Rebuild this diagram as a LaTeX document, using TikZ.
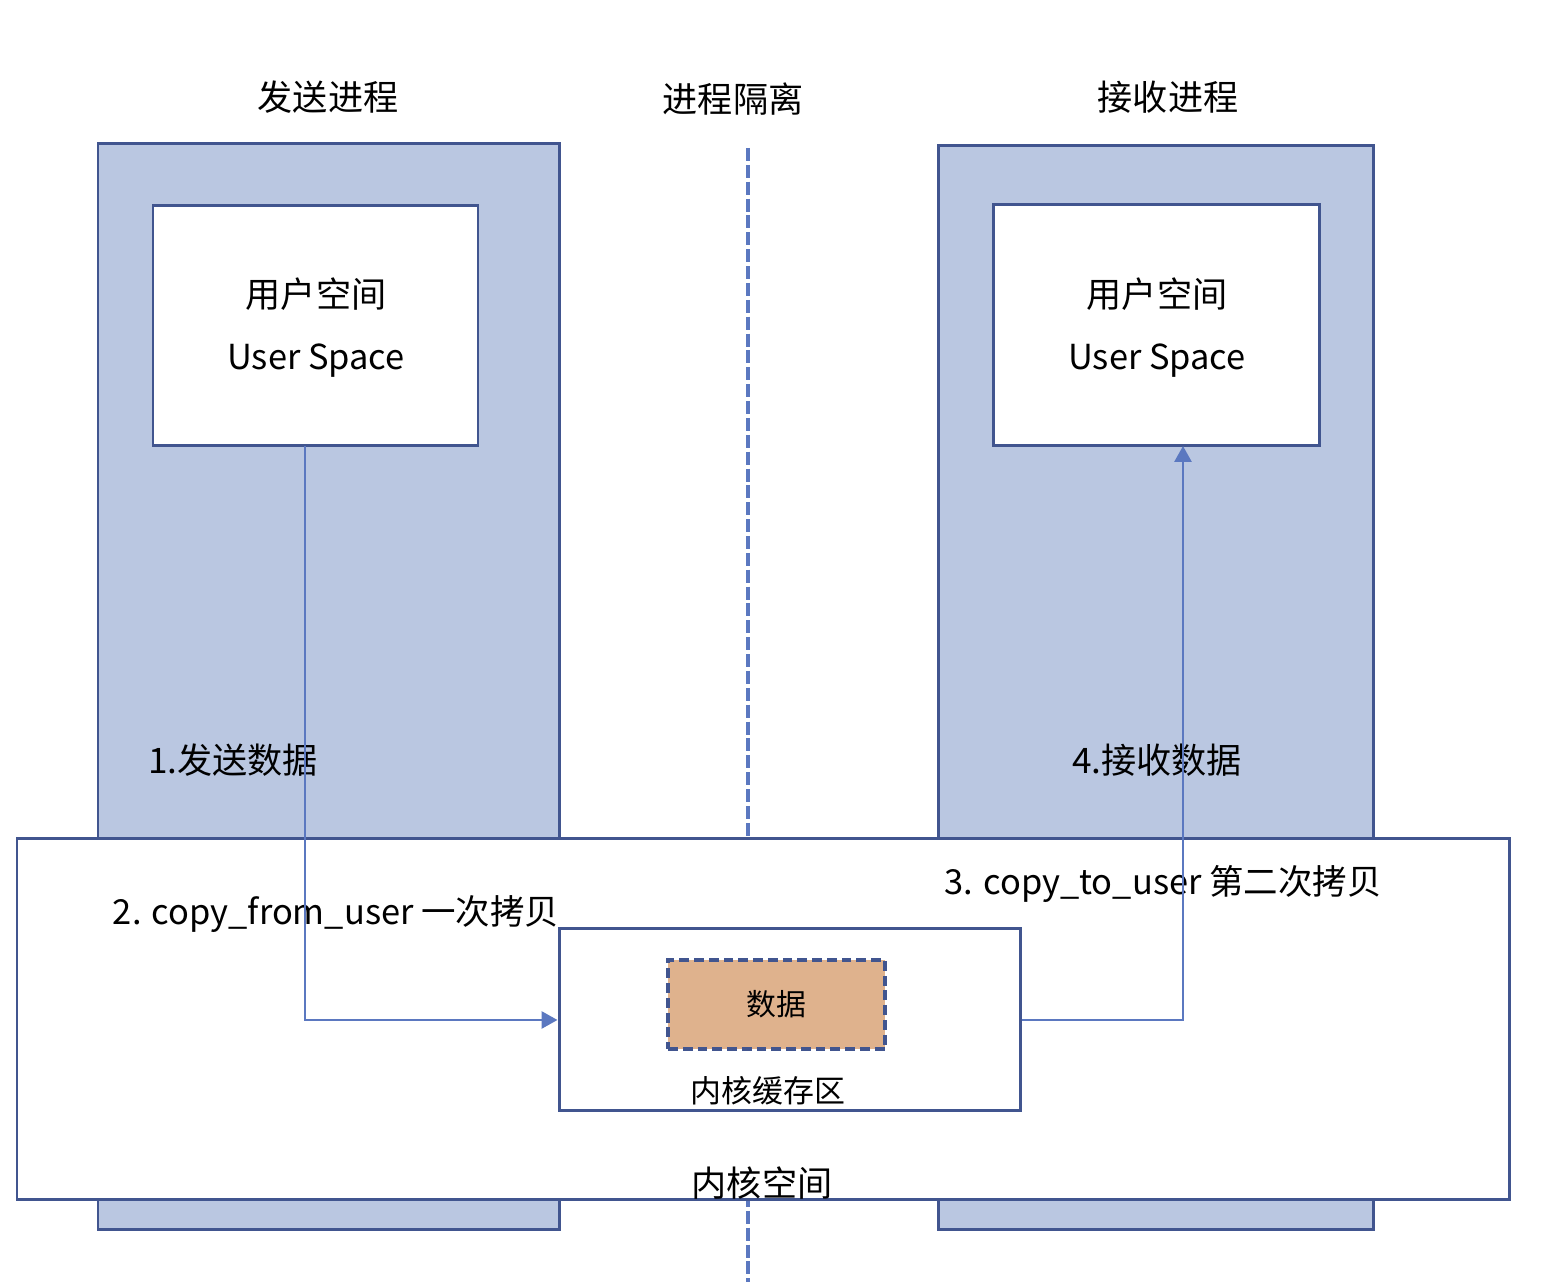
\documentclass[tikz,border=0pt]{standalone}
\usepackage{fontspec}
\setmainfont{Noto Sans CJK SC}
\usepackage{xcolor}
\usepackage{tikz}
\usetikzlibrary{arrows.meta, positioning, calc}

\definecolor{procfill}{HTML}{BAC7E1}
\definecolor{edgeblue}{HTML}{41558F}
\definecolor{flowblue}{HTML}{5B78C0}
\definecolor{datafill}{HTML}{DFB28D}

\begin{document}
\begin{tikzpicture}[
  proc/.style={rectangle, draw=edgeblue, fill=procfill, line width=0.85pt,
               inner sep=0pt},
  space/.style={rectangle, draw=edgeblue, fill=white, line width=0.85pt,
                inner sep=0pt},
  databox/.style={rectangle, draw=edgeblue, fill=datafill, line width=1.1pt,
                  dash pattern=on 2.8pt off 1.4pt, inner sep=0pt,
                  font=\fontsize{8.5pt}{10pt}\selectfont},
  lbl/.style={font=\fontsize{10pt}{12pt}\selectfont, inner sep=0pt},
  copylbl/.style={font=\fontsize{9.8pt}{12pt}\selectfont, inner sep=0pt},
  small/.style={font=\fontsize{8.8pt}{10pt}\selectfont, inner sep=0pt},
  arrow/.style={-{Triangle[length=1.6mm, width=1.7mm]}, draw=flowblue,
                line width=0.8pt},
  border/.style={dash pattern=on 3.7pt off 1.1pt, draw=flowblue,
                 line width=1.1pt}
]
  \useasboundingbox (0,0) rectangle (15.44,12.82);

  % the two processes
  \node[proc, minimum width=4.61cm, minimum height=10.86cm] (sender) at (3.285,5.95) {};
  \node[proc, minimum width=4.35cm, minimum height=10.84cm] (receiver) at (11.555,5.94) {};

  % isolation line
  \coordinate (isotop) at (7.48,11.34);
  \coordinate (isobot) at (7.48,0);
  \draw[border] (isotop) -- (isobot);

  % kernel
  \node[space, minimum width=14.92cm, minimum height=3.61cm] (kernel) at (7.63,2.625) {};
  \node[space, minimum width=4.61cm, minimum height=1.82cm] (buffer) at (7.895,2.62) {};
  \node[databox, minimum width=2.17cm, minimum height=0.89cm] (data) at (7.765,2.775) {数据};

  % user spaces
  \node[space, minimum width=3.25cm, minimum height=2.40cm] (suser) at (3.155,9.56) {};
  \node[space, minimum width=3.26cm, minimum height=2.41cm] (ruser) at (11.56,9.565) {};

  % texts
  \node[lbl] (ttsend) at (3.28,11.85) {发送进程};
  \node[lbl] (ttiso) at (7.33,11.83) {进程隔离};
  \node[lbl] (ttrecv) at (11.68,11.85) {接收进程};
  \node[lbl] (sucn) at (3.16,9.88) {用户空间};
  \node[copylbl] (suen) at (3.16,9.21) {User Space};
  \node[lbl] (rucn) at (11.57,9.88) {用户空间};
  \node[copylbl] (ruen) at (11.57,9.21) {User Space};
  \node[lbl] (stepa) at (2.33,5.22) {1.发送数据};
  \node[lbl] (stepd) at (11.57,5.22) {4.接收数据};
  \node[copylbl] (stepb) at (3.36,3.68) {2. copy\_from\_user 一次拷贝};
  \node[copylbl] (stepc) at (11.63,3.98) {3. copy\_to\_user 第二次拷贝};
  \node[small] (buflbl) at (7.68,1.91) {内核缓存区};
  \node[lbl] (kernlbl) at (7.62,0.99) {内核空间};

  % copies
  \coordinate (outa) at (3.05,8.36);
  \coordinate (inb) at (11.83,8.36);
  \draw[arrow] (outa) |- (buffer.west);
  \draw[arrow] (buffer.east) -| (inb);
\end{tikzpicture}
\end{document}
